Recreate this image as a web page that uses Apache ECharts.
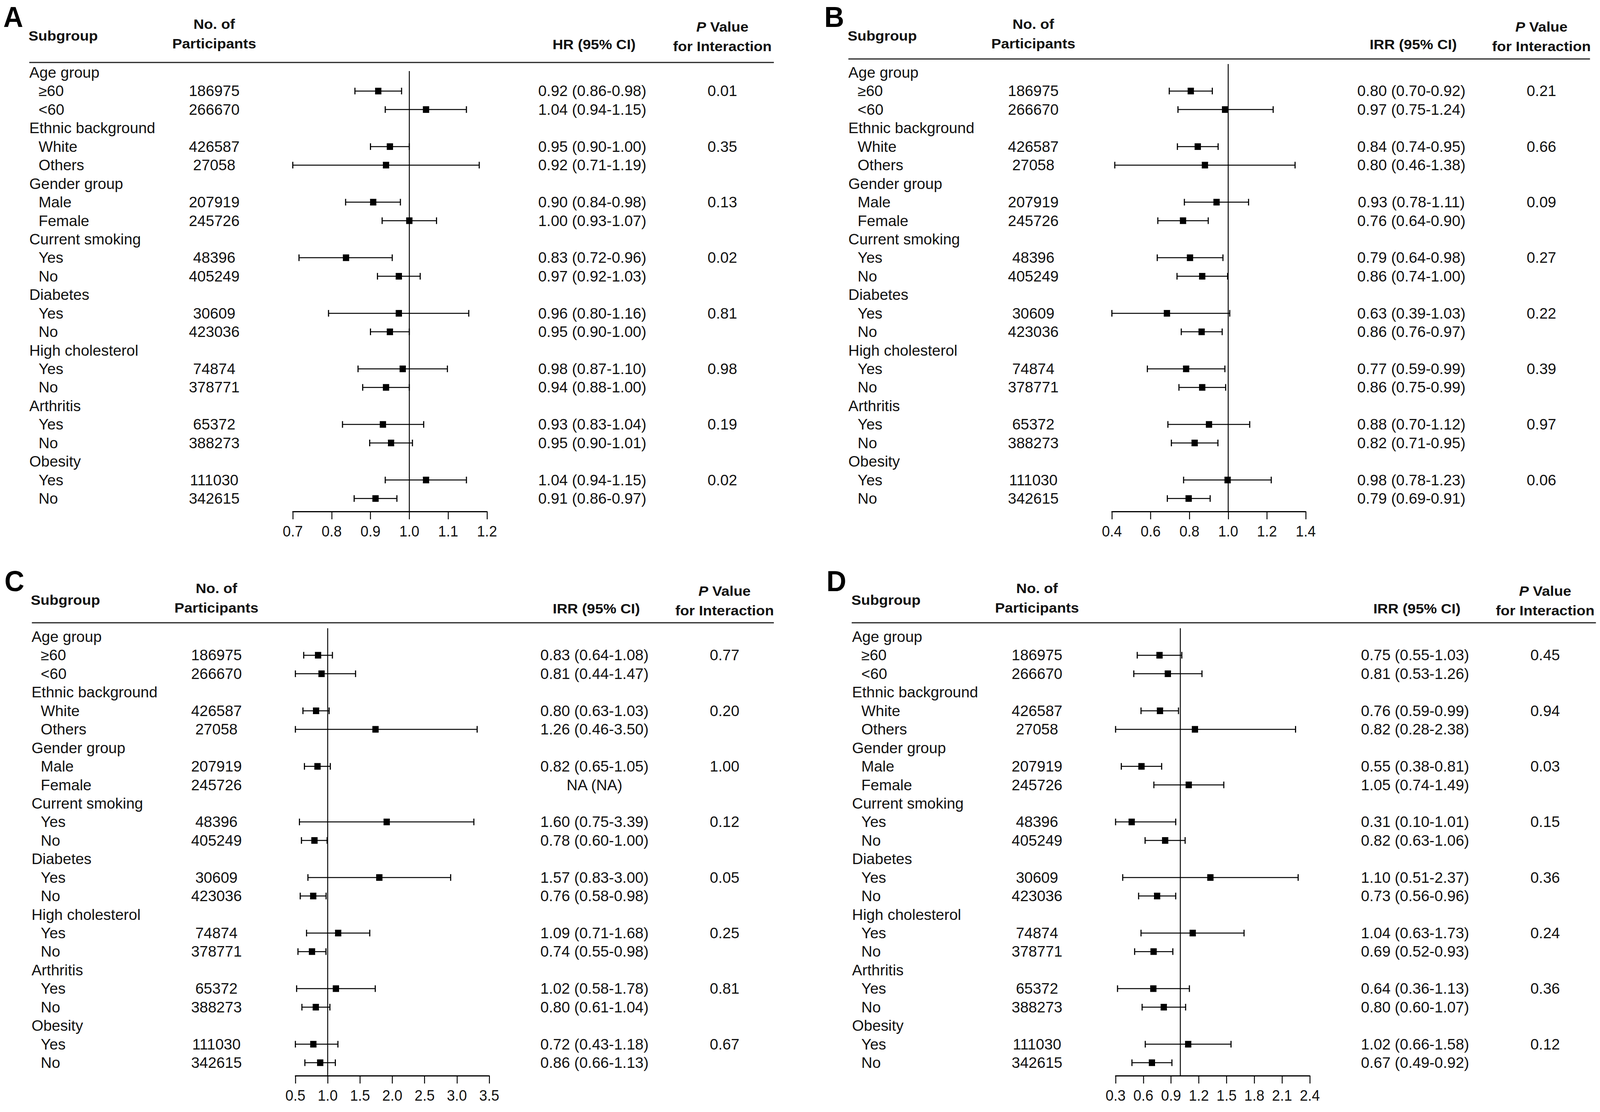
<!DOCTYPE html>
<html>
<head>
    <meta charset="utf-8">
    <title>Subgroup analyses</title>
    <script src="https://cdn.jsdelivr.net/npm/echarts@6/dist/echarts.min.js"></script>
    <style>
        html, body { margin: 0; padding: 0; background: #fff; overflow: hidden; }
        #chart { width: 4317px; height: 2848px; transform-origin: 0 0; }
    </style>
</head>
<body>
    <div id="chart"></div>

    <script>
        // rows shared by all four panels
        const groups = ['Age group', 'Ethnic background', 'Gender group', 'Current smoking',
                        'Diabetes', 'High cholesterol', 'Arthritis', 'Obesity'];
        const levels = ['≥60', '<60', 'White', 'Others', 'Male', 'Female', 'Yes', 'No',
                        'Yes', 'No', 'Yes', 'No', 'Yes', 'No', 'Yes', 'No'];
        const participants = ['186975', '266670', '426587', '27058', '207919', '245726', '48396', '405249',
                              '30609', '423036', '74874', '378771', '65372', '388273', '111030', '342615'];

        // A - HR
        const ciTextA = ['0.92 (0.86-0.98)', '1.04 (0.94-1.15)', '0.95 (0.90-1.00)', '0.92 (0.71-1.19)',
                         '0.90 (0.84-0.98)', '1.00 (0.93-1.07)', '0.83 (0.72-0.96)', '0.97 (0.92-1.03)',
                         '0.96 (0.80-1.16)', '0.95 (0.90-1.00)', '0.98 (0.87-1.10)', '0.94 (0.88-1.00)',
                         '0.93 (0.83-1.04)', '0.95 (0.90-1.01)', '1.04 (0.94-1.15)', '0.91 (0.86-0.97)'];
        const pTextA = ['0.01', '0.35', '0.13', '0.02', '0.81', '0.98', '0.19', '0.02'];
        const estA = [0.92, 1.043, 0.95, 0.94, 0.907, 1.0, 0.837, 0.973, 0.973, 0.95, 0.983, 0.94, 0.932, 0.953, 1.043, 0.913];
        const loA  = [0.86, 0.938, 0.90, 0.70, 0.836, 0.93, 0.716, 0.918, 0.792, 0.90, 0.868, 0.88, 0.828, 0.898, 0.938, 0.858];
        const hiA  = [0.98, 1.147, 1.00, 1.18, 0.977, 1.07, 0.956, 1.028, 1.153, 1.00, 1.098, 1.00, 1.037, 1.008, 1.147, 0.968];
        const ticksA = [0.7, 0.8, 0.9, 1.0, 1.1, 1.2];

        // B - IRR
        const ciTextB = ['0.80 (0.70-0.92)', '0.97 (0.75-1.24)', '0.84 (0.74-0.95)', '0.80 (0.46-1.38)',
                         '0.93 (0.78-1.11)', '0.76 (0.64-0.90)', '0.79 (0.64-0.98)', '0.86 (0.74-1.00)',
                         '0.63 (0.39-1.03)', '0.86 (0.76-0.97)', '0.77 (0.59-0.99)', '0.86 (0.75-0.99)',
                         '0.88 (0.70-1.12)', '0.82 (0.71-0.95)', '0.98 (0.78-1.23)', '0.79 (0.69-0.91)'];
        const pTextB = ['0.21', '0.66', '0.09', '0.27', '0.22', '0.39', '0.97', '0.06'];
        const estB = [0.807, 0.984, 0.843, 0.88, 0.94, 0.767, 0.803, 0.866, 0.684, 0.863, 0.783, 0.866, 0.901, 0.827, 0.997, 0.796];
        const loB  = [0.696, 0.741, 0.738, 0.415, 0.774, 0.637, 0.634, 0.736, 0.40, 0.758, 0.583, 0.746, 0.689, 0.707, 0.77, 0.686];
        const hiB  = [0.918, 1.232, 0.948, 1.345, 1.105, 0.897, 0.973, 0.997, 1.008, 0.969, 0.983, 0.987, 1.111, 0.947, 1.222, 0.907];
        const ticksB = [0.4, 0.6, 0.8, 1.0, 1.2, 1.4];

        // C - IRR (Female has no estimate)
        const ciTextC = ['0.83 (0.64-1.08)', '0.81 (0.44-1.47)', '0.80 (0.63-1.03)', '1.26 (0.46-3.50)',
                         '0.82 (0.65-1.05)', 'NA (NA)', '1.60 (0.75-3.39)', '0.78 (0.60-1.00)',
                         '1.57 (0.83-3.00)', '0.76 (0.58-0.98)', '1.09 (0.71-1.68)', '0.74 (0.55-0.98)',
                         '1.02 (0.58-1.78)', '0.80 (0.61-1.04)', '0.72 (0.43-1.18)', '0.86 (0.66-1.13)'];
        const pTextC = ['0.77', '0.20', '1.00', '0.12', '0.05', '0.25', '0.81', '0.67'];
        const estC = [0.851, 0.905, 0.82, 1.74, 0.842, null, 1.913, 0.795, 1.799, 0.776, 1.162, 0.757, 1.127, 0.816, 0.778, 0.884];
        const loC  = [0.629, 0.5, 0.617, 0.5, 0.64, null, 0.563, 0.594, 0.694, 0.575, 0.673, 0.54, 0.519, 0.601, 0.5, 0.647];
        const hiC  = [1.073, 1.431, 1.022, 3.313, 1.04, null, 3.262, 0.991, 2.903, 0.975, 1.651, 0.973, 1.736, 1.034, 1.158, 1.118];
        const ticksC = [0.5, 1.0, 1.5, 2.0, 2.5, 3.0, 3.5];

        // D - IRR
        const ciTextD = ['0.75 (0.55-1.03)', '0.81 (0.53-1.26)', '0.76 (0.59-0.99)', '0.82 (0.28-2.38)',
                         '0.55 (0.38-0.81)', '1.05 (0.74-1.49)', '0.31 (0.10-1.01)', '0.82 (0.63-1.06)',
                         '1.10 (0.51-2.37)', '0.73 (0.56-0.96)', '1.04 (0.63-1.73)', '0.69 (0.52-0.93)',
                         '0.64 (0.36-1.13)', '0.80 (0.60-1.07)', '1.02 (0.66-1.58)', '0.67 (0.49-0.92)'];
        const pTextD = ['0.45', '0.94', '0.03', '0.15', '0.36', '0.24', '0.36', '0.12'];
        const estD = [0.775, 0.865, 0.78, 1.158, 0.58, 1.091, 0.474, 0.836, 1.325, 0.749, 1.134, 0.711, 0.708, 0.821, 1.085, 0.693];
        const loD  = [0.534, 0.497, 0.575, 0.3, 0.362, 0.714, 0.3, 0.619, 0.377, 0.549, 0.575, 0.506, 0.321, 0.587, 0.621, 0.477];
        const hiD  = [1.016, 1.234, 0.98, 2.246, 0.798, 1.47, 0.95, 1.052, 2.274, 0.95, 1.689, 0.919, 1.098, 1.057, 1.548, 0.909];
        const ticksD = [0.3, 0.6, 0.9, 1.2, 1.5, 1.8, 2.1, 2.4];

        const FONT = "'Liberation Sans', Arial, sans-serif";
        const INK = '#111';
        // the figure's lettering is a little wider than Arial at its height
        const BODY = { size: 38, stretch: 1.08 };
        const HEAD = { size: 36, stretch: 1.1 };

        // layout of each panel (offsets from panel A)
        const panels = [
            { key: 'A', dx: 0,    dy: 0,    left: 790,  width: 524, head: 'HR (95% CI)',  refTop: -0.08, lineY: 160, lineX: [79, 2088],   letterX: 9,
              ci: ciTextA, p: pTextA, est: estA, lo: loA, hi: hiA, ticks: ticksA },
            { key: 'B', dx: 2210, dy: 0,    left: 3000, width: 523, head: 'IRR (95% CI)', refTop: -0.46, lineY: 151, lineX: [2289, 4290], letterX: 2224,
              ci: ciTextB, p: pTextB, est: estB, lo: loB, hi: hiB, ticks: ticksB },
            { key: 'C', dx: 6,    dy: 1445, left: 797,  width: 523, head: 'IRR (95% CI)', refTop: -0.46, lineY: 150, lineX: [86, 2088],   letterX: 12,
              ci: ciTextC, p: pTextC, est: estC, lo: loC, hi: hiC, ticks: ticksC },
            { key: 'D', dx: 2220, dy: 1445, left: 3010, width: 524, head: 'IRR (95% CI)', refTop: -0.46, lineY: 150, lineX: [2298, 4306], letterX: 2230,
              ci: ciTextD, p: pTextD, est: estD, lo: loD, hi: hiD, ticks: ticksD }
        ];

        const ROW_MIN = -0.5, ROW_MAX = 23.7;
        // level i sits on row 1 + i + floor(i / 2); group g on row 3g
        const levelRow = i => 1 + i + Math.floor(i / 2);

        function txt(x, y, text, align, bold) {
            const f = bold ? HEAD : BODY;
            return {
                type: 'text', x: x, y: y, scaleX: f.stretch,
                style: {
                    text: text, fill: INK, fontSize: f.size, fontFamily: FONT,
                    fontWeight: bold ? 'bold' : 'normal',
                    align: align, textAlign: align,
                    verticalAlign: 'middle', textVerticalAlign: 'middle'
                }
            };
        }

        let grids = [], xAxes = [], yAxes = [], series = [], graphics = [];

        panels.forEach((pn, k) => {
            const xmin = pn.ticks[0], xmax = pn.ticks[pn.ticks.length - 1];
            grids.push({ left: pn.left, width: pn.width, top: 162 + pn.dy, height: 1148 });
            xAxes.push({
                gridIndex: k, type: 'value', min: xmin, max: xmax,
                interval: pn.ticks[1] - pn.ticks[0],
                splitLine: { show: false },
                axisLine: { onZero: false, lineStyle: { color: '#000', width: 3 } },
                axisTick: { length: 20, lineStyle: { color: '#000', width: 2.5 } },
                axisLabel: {
                    margin: 31, color: INK, fontSize: 39, fontFamily: FONT,
                    showMinLabel: true, showMaxLabel: true,
                    formatter: v => v.toFixed(1)
                }
            });
            yAxes.push({ gridIndex: k, type: 'value', inverse: true, min: ROW_MIN, max: ROW_MAX, show: false });

            // reference line at 1
            series.push({
                type: 'line', xAxisIndex: k, yAxisIndex: k, symbol: 'none', silent: true,
                lineStyle: { color: '#000', width: 2.5 },
                data: [[1, pn.refTop], [1, ROW_MAX]]
            });

            // confidence intervals and point estimates
            const ciData = [];
            pn.est.forEach((e, i) => {
                if (e !== null) ciData.push([pn.lo[i], pn.hi[i], e, levelRow(i)]);
            });
            series.push({
                type: 'custom', xAxisIndex: k, yAxisIndex: k, silent: true,
                data: ciData,
                renderItem: function (params, api) {
                    const r = api.value(3);
                    const a = api.coord([api.value(0), r]);
                    const b = api.coord([api.value(1), r]);
                    const m = api.coord([api.value(2), r]);
                    const cap = 8.5, sq = 17;
                    const capStyle = { stroke: '#000', lineWidth: 3 };
                    return {
                        type: 'group',
                        children: [
                            { type: 'line', shape: { x1: a[0], y1: a[1], x2: b[0], y2: b[1] }, style: { stroke: '#000', lineWidth: 2.5 } },
                            { type: 'line', shape: { x1: a[0], y1: a[1] - cap, x2: a[0], y2: a[1] + cap }, style: capStyle },
                            { type: 'line', shape: { x1: b[0], y1: b[1] - cap, x2: b[0], y2: b[1] + cap }, style: capStyle },
                            { type: 'rect', shape: { x: m[0] - sq / 2, y: m[1] - sq / 2, width: sq, height: sq }, style: { fill: '#000' } }
                        ]
                    };
                }
            });

            // table text, one item per row
            const rowText = [];
            groups.forEach((g, gi) => rowText.push({ row: gi * 3, label: g, group: true }));
            levels.forEach((lv, i) => rowText.push({
                row: levelRow(i), label: lv, n: participants[i], ci: pn.ci[i],
                p: i % 2 === 0 ? pn.p[i / 2] : ''
            }));
            series.push({
                type: 'custom', xAxisIndex: k, yAxisIndex: k, silent: true, clip: false,
                data: rowText.map(t => [xmin, t.row]),
                renderItem: function (params, api) {
                    const t = rowText[params.dataIndex];
                    const y = api.coord([xmin, api.value(1)])[1];
                    if (t.group) return txt(pn.dx + 79, y, t.label, 'left');
                    return {
                        type: 'group',
                        children: [
                            txt(pn.dx + 104, y, t.label, 'left'),
                            txt(pn.dx + 578, y, t.n, 'center'),
                            txt(pn.dx + 1598, y, t.ci, 'center'),
                            txt(pn.dx + 1949, y, t.p, 'center')
                        ]
                    };
                }
            });

            // headers
            const hy = pn.dy + 2;
            graphics.push(
                { type: 'text', x: pn.letterX, y: pn.dy + 43,
                  style: { text: pn.key, fill: '#000', fontSize: 74, fontWeight: 'bold', fontFamily: FONT,
                           align: 'left', textAlign: 'left', verticalAlign: 'middle', textVerticalAlign: 'middle' } },
                txt(pn.dx + 77, hy + 90, 'Subgroup', 'left', true),
                txt(pn.dx + 578, hy + 60, 'No. of', 'center', true),
                txt(pn.dx + 578, hy + 110, 'Participants', 'center', true),
                txt(pn.dx + 1603, hy + 112, pn.head, 'center', true),
                { type: 'text', x: pn.dx + 1949, y: hy + 67, scaleX: HEAD.stretch,
                  style: { text: '{i|P} Value', fill: INK, fontSize: HEAD.size, fontWeight: 'bold', fontFamily: FONT,
                           align: 'center', textAlign: 'center', verticalAlign: 'middle', textVerticalAlign: 'middle',
                           rich: { i: { fontStyle: 'italic', fontWeight: 'bold', fontSize: HEAD.size, fontFamily: FONT, fill: INK, color: INK } } } },
                txt(pn.dx + 1949, hy + 117, 'for Interaction', 'center', true),
                { type: 'line', shape: { x1: pn.lineX[0], y1: pn.dy + pn.lineY, x2: pn.lineX[1], y2: pn.dy + pn.lineY },
                  style: { stroke: '#222', lineWidth: 3 } }
            );
        });

        // the figure is laid out at 4317 x 2848; fit it into whatever window we get
        const dom = document.getElementById('chart');
        const fitX = window.innerWidth / 4317, fitY = window.innerHeight / 2848;
        dom.style.transform = 'scale(' + fitX + ',' + fitY + ')';

        let chart = echarts.init(dom, null, { renderer: 'svg' });
        chart.setOption({
            animation: false,
            backgroundColor: '#fff',
            grid: grids,
            xAxis: xAxes,
            yAxis: yAxes,
            series: series,
            graphic: graphics
        });
    </script>
</body>
</html>
